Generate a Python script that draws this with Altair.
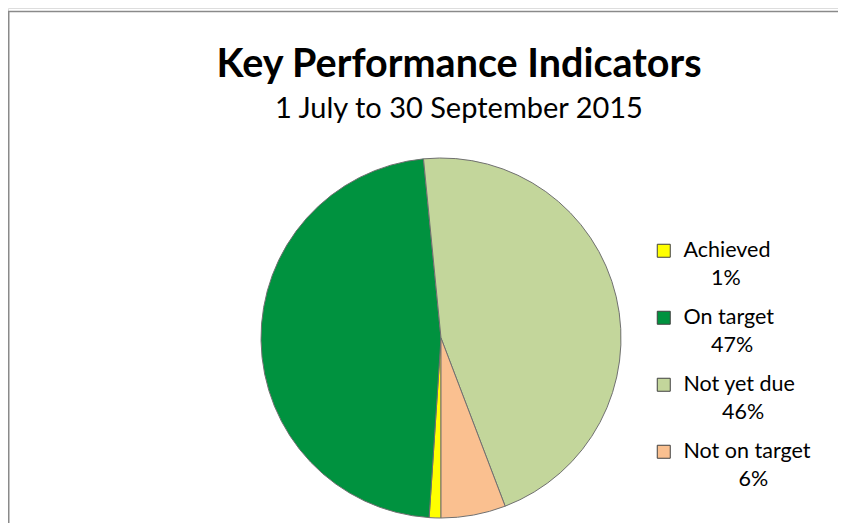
import math
import altair as alt
import pandas as pd

# ---- data ----
names = ["Achieved", "On target", "Not yet due", "Not on target"]
values = [1.05, 47.4, 45.75, 5.8]
pct_labels = ["1%", "47%", "46%", "6%"]
colors = ["#FFFF00", "#00923F", "#C3D69B", "#FAC090"]

title_text = "Key Performance Indicators"
subtitle_text = "1 July to 30 September 2015"

FONT = "Lato"
LFS = 21.5


def centred(name, pct):
    # pad the percentage line with no-break spaces so it sits under the middle of the name
    n = round((len(name) * 0.47 - len(pct) * 0.55) / 2 / 0.257)
    return "\u200b" + "\u00a0" * max(n, 0) + pct


keys = [f"{n}|{centred(n, p)}" for n, p in zip(names, pct_labels)]
df = pd.DataFrame({"name": names, "key": keys, "value": values, "order": list(range(len(names)))})
frame_df = pd.DataFrame({"f": [0]})

W, H = 830, 515

pie = alt.Chart(df).mark_arc(
    radius=180, stroke="#707070", strokeWidth=1, x=433, y=330
).encode(
    theta=alt.Theta("value:Q", stack=True, scale=alt.Scale(range=[math.pi, 3 * math.pi])),
    order=alt.Order("order:Q"),
    color=alt.Color(
        "key:N",
        scale=alt.Scale(domain=keys, range=colors),
        legend=alt.Legend(
            orient="none",
            legendX=645,
            legendY=232,
            title=None,
            symbolType="square",
            symbolSize=169,
            symbolStrokeColor="#404040",
            symbolStrokeWidth=1,
            labelFont=FONT,
            labelFontSize=LFS,
            labelColor="black",
            labelExpr="split(datum.label, '|')",
            labelOffset=9,
            labelLimit=400,
            rowPadding=16,
            padding=0,
        ),
    ),
)

frame_top = alt.Chart(frame_df).mark_rule(color="#8A8A8A", strokeWidth=1.5).encode(
    x=alt.value(0), x2=alt.value(W + 10), y=alt.value(3.5)
)
frame_left = alt.Chart(frame_df).mark_rule(color="#8A8A8A", strokeWidth=1.5).encode(
    x=alt.value(0.75), y=alt.value(3.5), y2=alt.value(H)
)

chart = alt.layer(frame_top, frame_left, pie).properties(
    width=W,
    height=H,
    autosize=alt.AutoSizeParams(type="none"),
    padding=0,
    title=alt.TitleParams(
        text=title_text,
        subtitle=subtitle_text,
        font=FONT,
        fontSize=39.5,
        fontWeight="bold",
        color="black",
        subtitleFont=FONT,
        subtitleFontSize=29,
        subtitleColor="black",
        subtitlePadding=10,
        anchor="middle",
        offset=-117,
        dx=36,
    ),
).configure_view(strokeWidth=0).configure(style={"guide-label": {"lineHeight": 28}})

chart.save("out.html", embed_options={"renderer": "svg", "actions": False})
